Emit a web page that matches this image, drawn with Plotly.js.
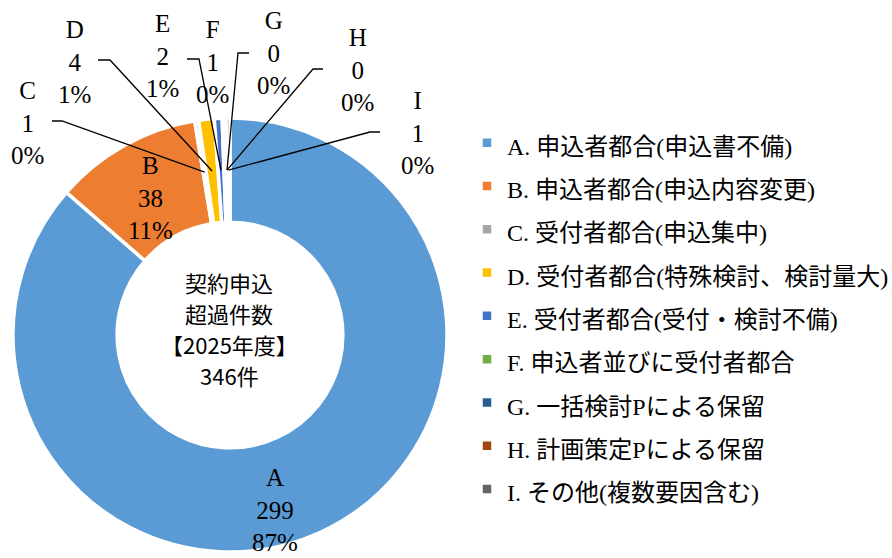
<!DOCTYPE html>
<html><head><meta charset="utf-8">
<script src="https://cdn.plot.ly/plotly-3.0.1.min.js"></script>
<style>html,body{margin:0;padding:0;background:#fff}#chart{width:892px;height:558px}</style>
</head><body><div id="chart"></div>
<script>
// ---- data ----
const codes = ['A','B','C','D','E','F','G','H','I'];
const categories = [
  'A. 申込者都合(申込書不備)',
  'B. 申込者都合(申込内容変更)',
  'C. 受付者都合(申込集中)',
  'D. 受付者都合(特殊検討、検討量大)',
  'E. 受付者都合(受付・検討不備)',
  'F. 申込者並びに受付者都合',
  'G. 一括検討Pによる保留',
  'H. 計画策定Pによる保留',
  'I. その他(複数要因含む)'
];
const counts = [299, 38, 1, 4, 2, 1, 0, 0, 1];
const percentLabels = ['87%', '11%', '0%', '1%', '1%', '0%', '0%', '0%', '0%'];
const centerLines = ['契約申込', '超過件数', '【2025年度】', '346件'];

// ---- styles / layout ----
const colors = ['#5B9BD5','#ED7D31','#A5A5A5','#FFC000','#4472C4','#70AD47','#255E91','#9E480E','#636363'];
const W = 892, H = 558;
const CX = 230, CY = 335, R = 217, HOLE = 0.52;
const SERIF = "'Liberation Serif', 'Times New Roman', serif";
// label placement in pixels: [centerX, middleLineY, [leaderStartX, leaderBendX, leaderY] or null]
const labelPos = [
  [275, 510, null],
  [150, 198, null],
  [27, 123, [52, 62, 121]],
  [74, 62, [98, 110, 60]],
  [162, 56, [187, 199, 59]],
  [212, 62, null],
  [273, 53, [249, 238, 53]],
  [357, 70, [323, 313, 69]],
  [417, 133, [380, 370, 132]]
];
const centerLineY = [282, 313, 344, 375];

const px = x => x / W;
const py = y => 1 - y / H;
const total = counts.reduce((a, b) => a + b, 0);
const rMid = R * (1 + HOLE) / 2;

const annotations = [];
const shapes = [];
let cum = 0;
counts.forEach((v, i) => {
  const mid = (cum + v / 2) / total * 2 * Math.PI;
  cum += v;
  const tipX = CX + rMid * Math.sin(mid);
  const tipY = CY - rMid * Math.cos(mid);
  const p = labelPos[i];
  annotations.push({
    x: px(p[0]), y: py(p[1]), xref: 'paper', yref: 'paper',
    xanchor: 'center', yanchor: 'middle', showarrow: false,
    text: codes[i] + '<br>' + counts[i] + '<br>' + percentLabels[i],
    font: {family: SERIF, size: 25, color: '#000'}
  });
  if (p[2]) {
    const [sx, bx, ly] = p[2];
    shapes.push({
      type: 'path', xref: 'paper', yref: 'paper',
      path: `M${px(sx)},${py(ly)} L${px(bx)},${py(ly)} L${px(tipX)},${py(tipY)}`,
      line: {color: '#000', width: 1.3}
    });
  }
});

centerLines.forEach((t, i) => {
  annotations.push({
    x: px(229), y: py(centerLineY[i]), xref: 'paper', yref: 'paper',
    xanchor: 'center', yanchor: 'middle', showarrow: false,
    text: t,
    font: {family: "'Noto Sans CJK JP', sans-serif", size: 22, color: '#000'}
  });
});

const trace = {
  type: 'pie',
  labels: categories.map(c => '<span style="font-size:24px">' + c + '</span>'),
  values: counts,
  sort: false,
  direction: 'clockwise',
  rotation: 0,
  hole: HOLE,
  textinfo: 'none',
  hoverinfo: 'skip',
  marker: {colors: colors, line: {color: '#fff', width: 3.5}},
  domain: {x: [px(CX - R), px(CX + R)], y: [py(CY + R), py(CY - R)]}
};

const layout = {
  width: W, height: H,
  margin: {l: 0, r: 0, t: 0, b: 0, autoexpand: false},
  paper_bgcolor: '#fff',
  showlegend: true,
  legend: {
    x: px(467), y: py(116), xanchor: 'left', yanchor: 'top',
    font: {family: "'Liberation Serif', 'Noto Sans CJK JP', serif", size: 31, color: '#000'},
    bgcolor: 'rgba(0,0,0,0)'
  },
  annotations: annotations,
  shapes: shapes
};

Plotly.newPlot('chart', [trace], layout, {displayModeBar: false, staticPlot: true});
</script>
</body></html>
